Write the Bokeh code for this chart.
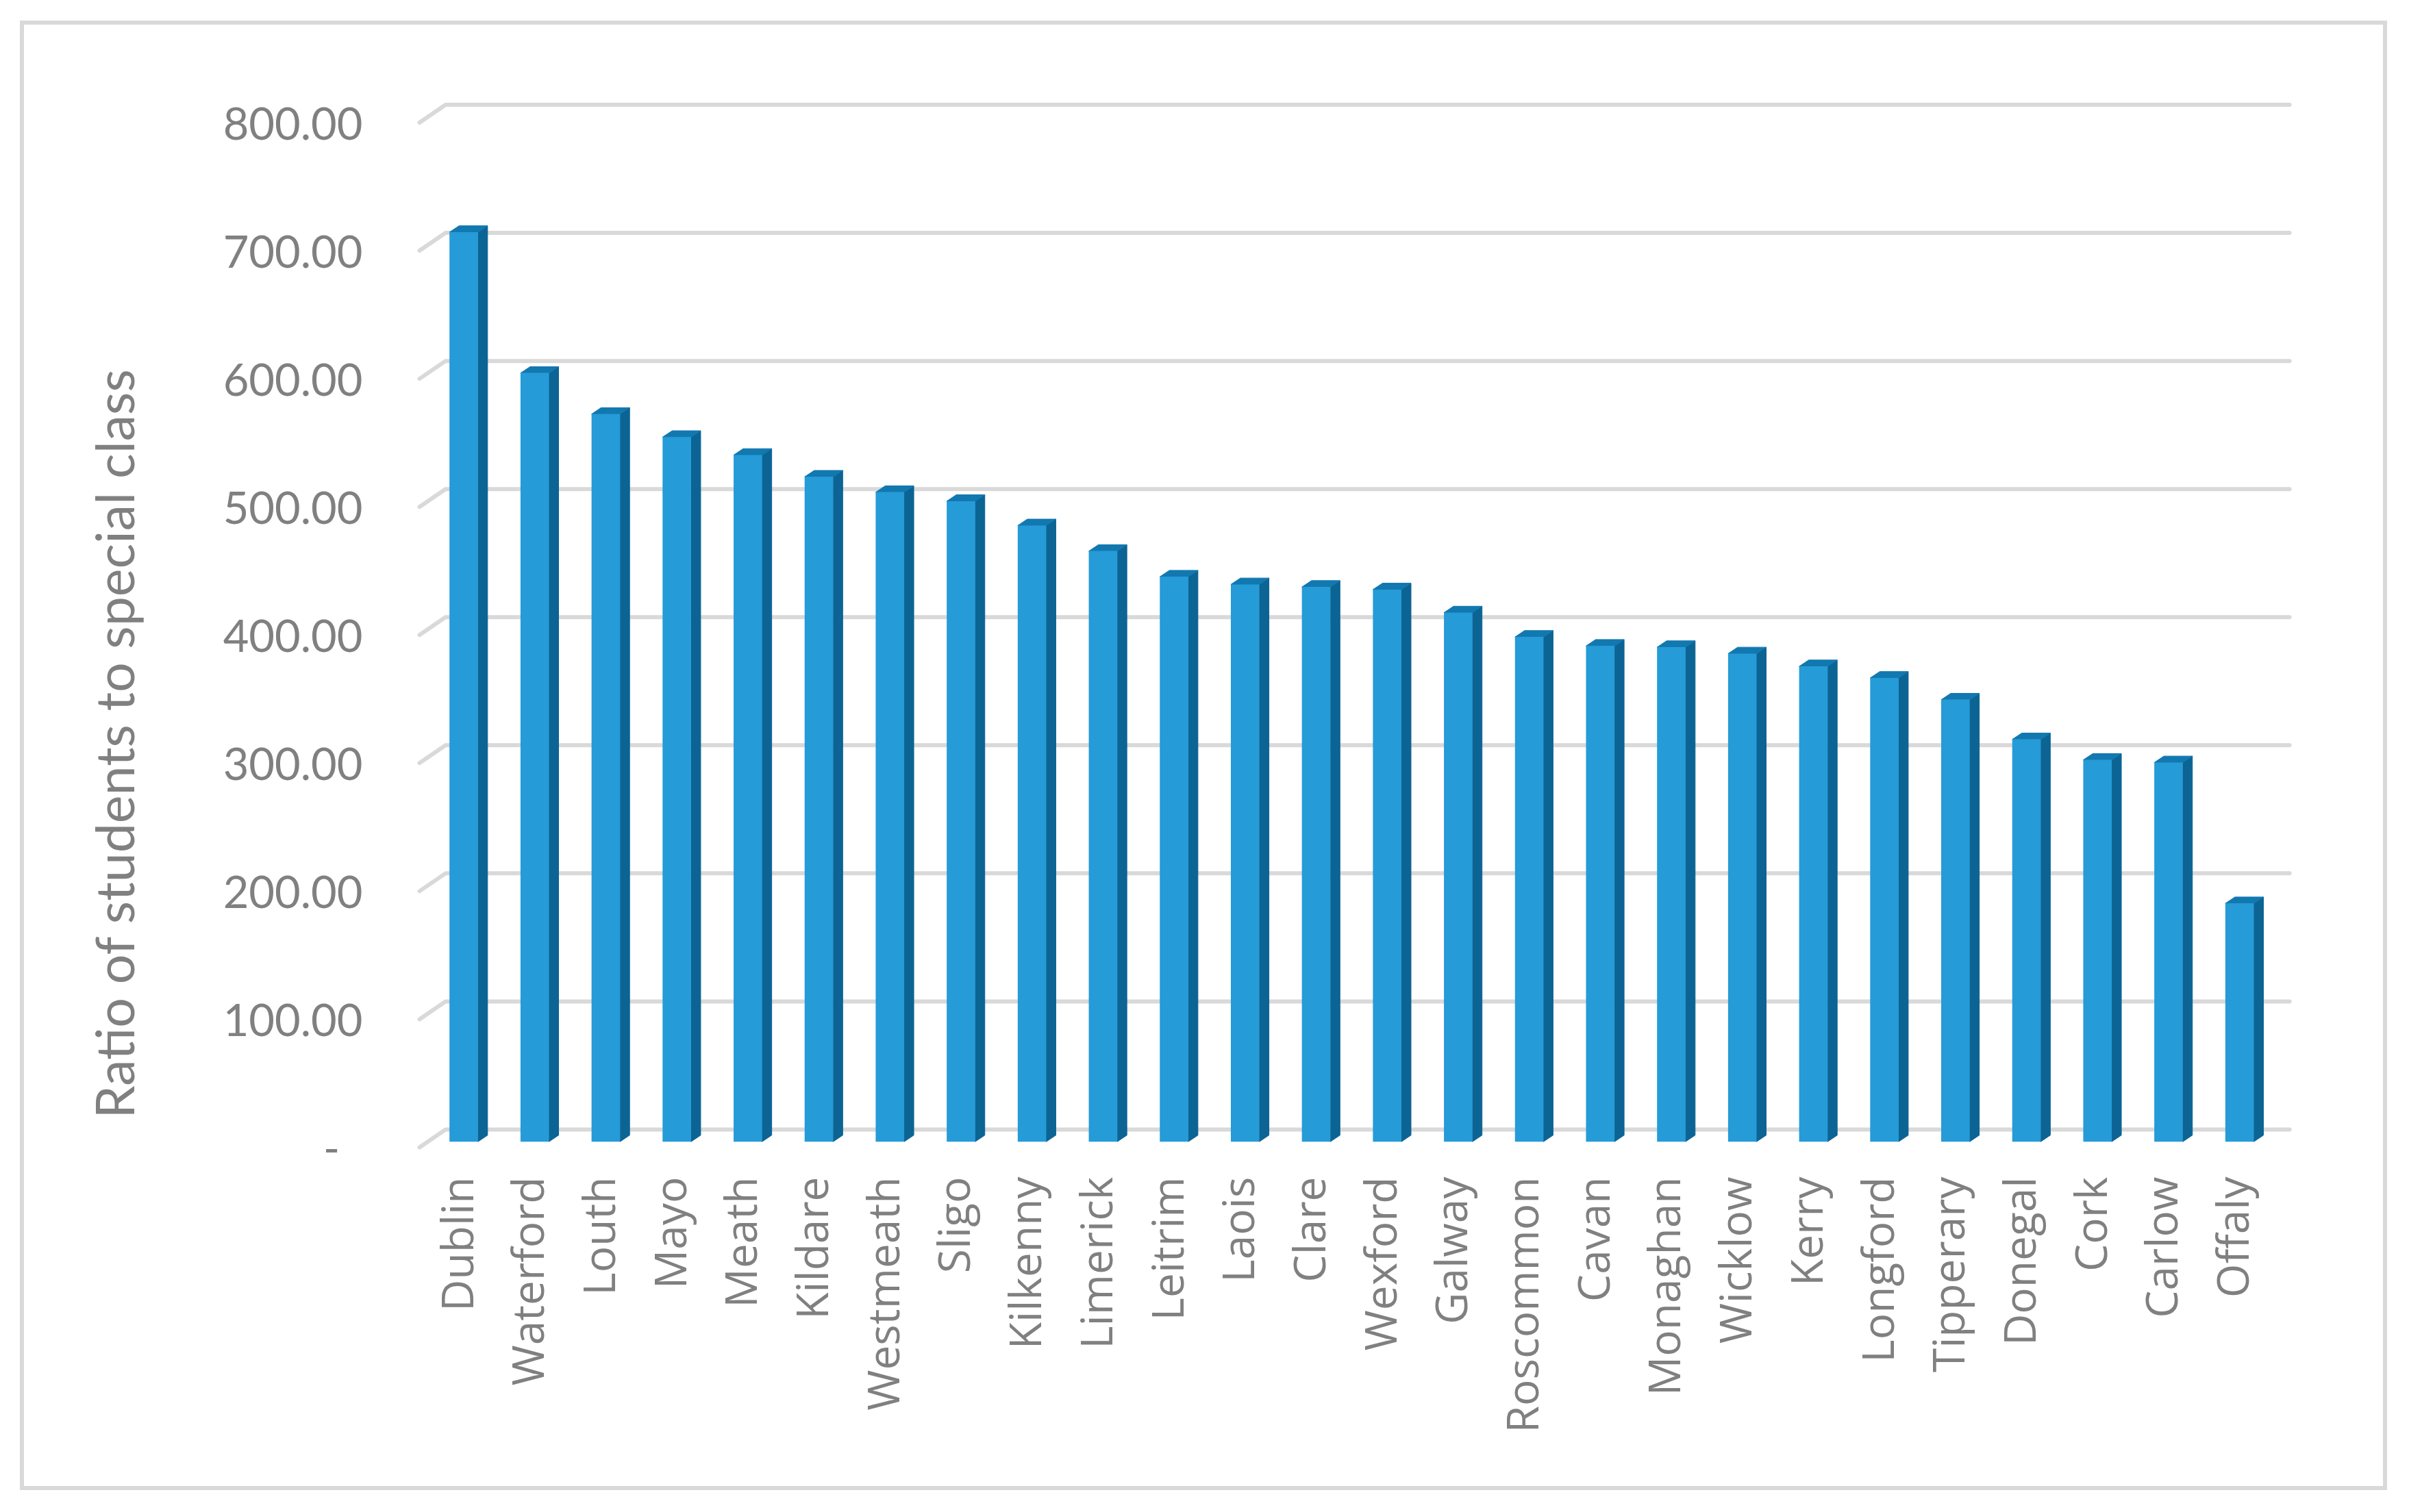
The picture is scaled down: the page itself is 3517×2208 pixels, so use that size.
import math
from bokeh.plotting import figure
from bokeh.models import (Range1d, LinearAxis, FixedTicker, NumeralTickFormatter,
                          ColumnDataSource, Title)
from bokeh.transform import dodge
from bokeh.embed import file_html
from bokeh.resources import INLINE

# ---------------- data ----------------
counties = ["Dublin", "Waterford", "Louth", "Mayo", "Meath", "Kildare", "Westmeath",
            "Sligo", "Kilkenny", "Limerick", "Leitrim", "Laois", "Clare", "Wexford",
            "Galway", "Roscommon", "Cavan", "Monaghan", "Wicklow", "Kerry", "Longford",
            "Tipperary", "Donegal", "Cork", "Carlow", "Offaly"]
ratios = [710, 600, 568, 550, 536, 519, 507, 500, 481, 461, 441, 435, 433, 431,
          413, 394, 387, 386, 381, 371, 362, 345, 314, 298, 296, 186]
y_ticks = [0, 100, 200, 300, 400, 500, 600, 700, 800]
y_title = "Ratio of students to special class"

# ---------------- geometry / style ----------------
W, H = 3517, 2208
X0, X1 = -0.6316, 25.905          # category units
Y0, Y1 = -24.06, 809.9            # back-wall value units
FRONT_DY = 13.9                   # front plane offset (value units)
BAR_DY = 9.46                     # bar front plane offset (value units)
X_FRONT, X_BACK, X_END = -0.516, -0.150, 25.81
BAR_L, BAR_R, DEPTH_X, DEPTH_Y = -0.0945, 0.3067, 0.135, 5.0

GRID_C = "#d9d9d9"
TEXT_C = "#808080"
FRONT_C, SIDE_C, TOP_C = "#259BD8", "#0C6494", "#1278B0"

border_css = """
:host::after {
  content: "";
  position: absolute;
  left: 29px; top: 30px;
  width: 3456px; height: 2146px;
  box-sizing: border-box;
  border: 6px solid #d9d9d9;
  pointer-events: none;
  z-index: 100;
}
"""

p = figure(width=W, height=H, output_backend="svg", toolbar_location=None,
           x_range=Range1d(X0, X1), y_range=Range1d(Y0, Y1),
           y_axis_location=None,
           min_border_left=600, min_border_right=165,
           min_border_top=134, min_border_bottom=514,
           background_fill_color="white", border_fill_color="white",
           stylesheets=[border_css])
p.outline_line_color = None
p.grid.visible = False

p.extra_y_ranges = {
    "front": Range1d(Y0 + FRONT_DY, Y1 + FRONT_DY),
    "bar": Range1d(Y0 + BAR_DY, Y1 + BAR_DY),
}

# gridlines (back wall + short diagonals to the front plane)
grid_src = ColumnDataSource(dict(
    xs=[[X_FRONT, X_BACK, X_END] for _ in y_ticks],
    ys=[[v - FRONT_DY, v, v] for v in y_ticks],
))
p.multi_line("xs", "ys", source=grid_src, line_color=GRID_C, line_width=6,
             line_cap="round", line_join="round")

# bars (pseudo 3-D)
idx = list(range(len(counties)))
side_xs, side_ys, top_xs, top_ys = [], [], [], []
for i, v in zip(idx, ratios):
    xr = i + BAR_R
    xl = i + BAR_L
    side_xs.append([xr, xr, xr + DEPTH_X, xr + DEPTH_X])
    side_ys.append([0, v, v + DEPTH_Y, DEPTH_Y])
    top_xs.append([xl, xr, xr + DEPTH_X, xl + DEPTH_X])
    top_ys.append([v, v, v + DEPTH_Y, v + DEPTH_Y])

bar_src = ColumnDataSource(dict(idx=idx, ratio=ratios, county=counties))
p.patches(side_xs, side_ys, y_range_name="bar", fill_color=SIDE_C, line_color=SIDE_C,
          line_width=1)
p.patches(top_xs, top_ys, y_range_name="bar", fill_color=TOP_C, line_color=TOP_C,
          line_width=1)
p.vbar(x=dodge("idx", (BAR_L + BAR_R) / 2), top="ratio", bottom=0,
       width=BAR_R - BAR_L, source=bar_src, y_range_name="bar",
       fill_color=FRONT_C, line_color=None)

# x axis (categories)
xa = p.xaxis[0]
xa.ticker = FixedTicker(ticks=idx)
xa.major_label_overrides = {i: c for i, c in zip(idx, counties)}
xa.major_label_orientation = math.pi / 2
xa.major_label_standoff = 18
xa.major_label_text_font = "Open Sans"
xa.major_label_text_font_size = "64px"
xa.major_label_text_color = TEXT_C
xa.axis_line_color = None
xa.major_tick_line_color = None
xa.minor_tick_line_color = None

# y axis (values, drawn on the front plane)
ya = LinearAxis(y_range_name="front")
ya.ticker = FixedTicker(ticks=y_ticks)
ya.formatter = NumeralTickFormatter(format="0.00")
ya.major_label_overrides = {0: "-\u00a0\u00a0"}
ya.major_label_standoff = 65
ya.major_label_text_font = "Lato"
ya.major_label_text_font_size = "65px"
ya.major_label_text_color = TEXT_C
ya.axis_line_color = None
ya.major_tick_line_color = None
ya.minor_tick_line_color = None
p.add_layout(ya, "left")

# axis title
p.add_layout(Title(text=y_title, align="left", offset=61, standoff=220,
                   vertical_align="middle", text_font="Lato",
                   text_font_size="77px", text_font_style="normal",
                   text_color=TEXT_C), "left")

open("out.html", "w").write(file_html(p, INLINE))
